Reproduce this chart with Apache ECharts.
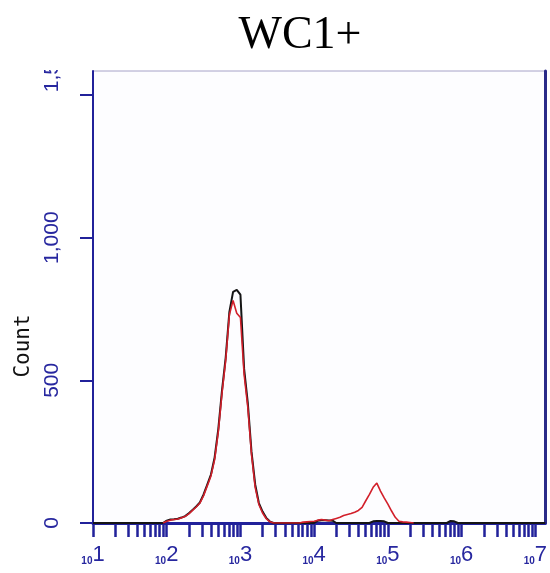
<!DOCTYPE html>
<html>
<head>
<meta charset="utf-8">
<title>WC1+</title>
<script src="https://cdn.jsdelivr.net/npm/echarts@6/dist/echarts.min.js"></script>
<style>
  html, body { margin: 0; padding: 0; background: #ffffff; }
  #chart { width: 550px; height: 573px; }
</style>
</head>
<body>
<div id="chart"></div>
<script>
// Fluorescence channel positions are given in decades (log10 of intensity).
const peakExp = [1.95, 2.00, 2.05, 2.10, 2.15, 2.20, 2.25, 2.30, 2.35, 2.40, 2.45, 2.50, 2.55, 2.60, 2.65,
                 2.70, 2.75, 2.80, 2.85, 2.90, 2.95, 3.00, 3.05, 3.10, 3.15, 3.20, 3.25, 3.30, 3.35, 3.40, 3.45];
const blackPeak = [0, 8, 12, 13, 15, 19, 24, 34, 46, 58, 72, 100, 135, 170, 230,
                   330, 465, 580, 740, 810, 817, 800, 540, 420, 250, 135, 70, 40, 18, 5, 0];
const redPeak = [0, 6, 10, 12, 14, 18, 23, 32, 44, 56, 70, 96, 130, 165, 222,
                 320, 455, 570, 730, 780, 735, 720, 520, 405, 240, 125, 65, 35, 15, 4, 0];

const bumpExp = [3.80, 3.85, 3.90, 3.95, 4.00, 4.05, 4.10, 4.15, 4.20, 4.25, 4.30, 4.35, 4.40, 4.45, 4.50, 4.55,
                 4.60, 4.65, 4.70, 4.75, 4.80, 4.85, 4.90, 4.95, 5.00, 5.05, 5.10, 5.15, 5.20, 5.25, 5.30, 5.35];
const redBump = [0, 3, 4, 5, 6, 10, 12, 10, 8, 12, 16, 20, 26, 30, 33, 38,
                 44, 55, 78, 100, 125, 140, 112, 88, 66, 42, 20, 6, 4, 3, 2, 0];
const blackBump = [0, 0, 0, 0, 0, 8, 10, 10, 9, 8, 0, 0, 0, 0, 0, 0,
                   0, 0, 0, 0, 6, 7, 7, 6, 0, 0, 0, 0, 0, 0, 0, 0];

const tailExp = [5.80, 5.85, 5.90, 5.95];
const blackTail = [0, 7, 6, 0];

// Axis ticks and ranges
const xDecades = [1, 2, 3, 4, 5, 6, 7];
const xMin = 1, xMax = 7.135;
const yTicks = [0, 500, 1000, 1500];
const yMax = 1584;

const AXIS_BLUE = '#21219a';
const LABEL_BLUE = '#27279f';

function pairs(xs, ys) { return xs.map((x, i) => [x, ys[i]]); }

const blackData = [[xMin, 0]].concat(pairs(peakExp, blackPeak), pairs(bumpExp, blackBump),
                                      pairs(tailExp, blackTail), [[xMax, 0]]);
const redData = pairs(peakExp, redPeak).concat(pairs(bumpExp, redBump));

// Log-decade tick marks: 1..9 within each decade
const xTickValues = [];
xDecades.forEach(d => {
  if (d < 7) {
    for (let m = 1; m <= 9; m++) xTickValues.push(d + Math.log10(m));
  } else {
    xTickValues.push(d);
  }
});

const chart = echarts.init(document.getElementById('chart'), null, { renderer: 'canvas' });

chart.setOption({
  animation: false,
  backgroundColor: '#ffffff',
  grid: {
    left: 93, right: 3, top: 71, bottom: 50,
    show: true,
    backgroundColor: '#fdfdff',
    borderColor: '#a6a2c8',
    borderWidth: 1
  },
  xAxis: {
    type: 'value',
    min: xMin, max: xMax,
    interval: 1,
    splitLine: { show: false },
    axisLine: { show: true, onZero: false, lineStyle: { color: AXIS_BLUE, width: 3 } },
    axisTick: { show: true, length: 14, lineStyle: { color: AXIS_BLUE, width: 2.5 }, customValues: xTickValues },
    axisLabel: {
      show: true,
      margin: 21,
      customValues: xDecades,
      formatter: v => '{b|10}{e|' + Math.round(v) + '}',
      rich: {
        b: { fontFamily: 'Liberation Sans, Arial, sans-serif', fontSize: 10, fontWeight: 'bold', color: LABEL_BLUE, verticalAlign: 'bottom', lineHeight: 22 },
        e: { fontFamily: 'Liberation Sans, Arial, sans-serif', fontSize: 22, color: LABEL_BLUE, verticalAlign: 'bottom', lineHeight: 22 }
      }
    }
  },
  yAxis: [{
    type: 'value',
    min: 0, max: yMax,
    interval: 500,
    name: 'Count',
    nameLocation: 'middle',
    nameGap: 58,
    nameRotate: 90,
    nameTextStyle: {
      fontFamily: 'DejaVu Sans Mono, monospace',
      fontSize: 21,
      color: '#111111',
      padding: [0, 98, 0, 0]
    },
    splitLine: { show: false },
    axisLine: { show: true, lineStyle: { color: AXIS_BLUE, width: 2 } },
    axisTick: { show: true, length: 13, lineStyle: { color: AXIS_BLUE, width: 2 }, customValues: yTicks },
    axisLabel: {
      show: true,
      rotate: 90,
      margin: 30,
      customValues: yTicks,
      fontFamily: 'Liberation Sans, Arial, sans-serif',
      fontSize: 21,
      color: LABEL_BLUE,
      formatter: v => {
        const s = v.toLocaleString('en-US');
        return v === 1500 ? '{top|' + s + '}' : s;
      },
      rich: {
        top: { fontFamily: 'Liberation Sans, Arial, sans-serif', fontSize: 21, color: LABEL_BLUE, padding: [0, 0, 0, 58] }
      }
    }
  }, {
    type: 'value',
    position: 'right',
    min: 0, max: yMax,
    splitLine: { show: false },
    axisLine: { show: true, lineStyle: { color: '#2a2a88', width: 3 } },
    axisTick: { show: false },
    axisLabel: { show: false }
  }],
  series: [{
    name: 'Black',
    type: 'line',
    data: blackData,
    symbol: 'none',
    lineStyle: { color: '#151515', width: 2 },
    z: 3
  }, {
    name: 'Red',
    type: 'line',
    data: redData,
    symbol: 'none',
    lineStyle: { color: '#d21f2a', width: 1.6 },
    z: 4
  }],
  graphic: [{
    type: 'rect',
    z: 100,
    shape: { x: 0, y: 0, width: 92, height: 70 },
    style: { fill: '#ffffff' }
  }, {
    type: 'text',
    z: 101,
    x: 300, y: 36,
    style: {
      text: 'WC1+',
      fontFamily: 'Liberation Serif, Times New Roman, serif',
      fontSize: 46,
      fill: '#000000',
      align: 'center',
      verticalAlign: 'middle'
    }
  }]
});
</script>
</body>
</html>
